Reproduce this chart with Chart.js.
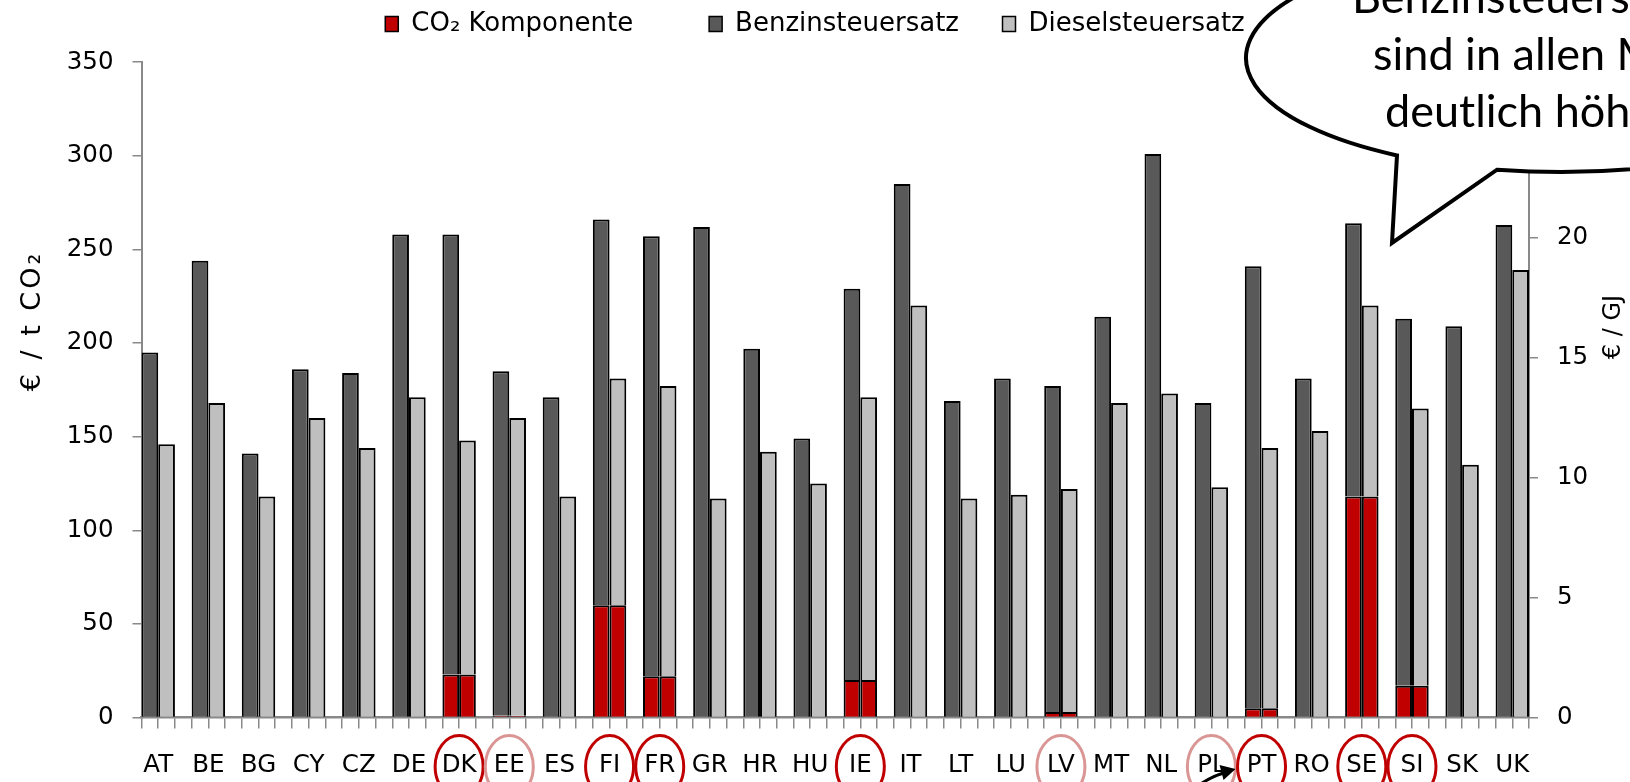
<!DOCTYPE html>
<html>
<head>
<meta charset="utf-8">
<title>Steuersätze</title>
<script src="https://cdn.jsdelivr.net/npm/chart.js@4.4.0/dist/chart.umd.min.js"></script>
<style>
    html, body { margin: 0; padding: 0; background: #fff; }
    #wrap { width: 1630px; height: 782px; position: relative; }
</style>
</head>
<body>
<div id="wrap"><canvas id="taxes"></canvas></div>
<script>
// values, € / t CO2
var countries = ['AT','BE','BG','CY','CZ','DE','DK','EE','ES','FI','FR','GR','HR','HU',
                 'IE','IT','LT','LU','LV','MT','NL','PL','PT','RO','SE','SI','SK','UK'];
var co2Component = [0, 0, 0, 0, 0, 0, 23, 1, 0, 60, 22, 0, 0, 0,
                    20, 0, 0, 0, 3, 0, 0, 0, 5, 0, 118, 17, 0, 0];
var petrolRate = [195, 244, 141, 186, 184, 258, 258, 185, 171, 266, 257, 262, 197, 149,
                  229, 285, 169, 181, 177, 214, 301, 168, 241, 181, 264, 213, 209, 263];
var dieselRate = [146, 168, 118, 160, 144, 171, 148, 160, 118, 181, 177, 117, 142, 125,
                  171, 220, 117, 119, 122, 168, 173, 123, 144, 153, 220, 165, 135, 239];
var circledStrong = ['DK','FI','FR','IE','PT','SE','SI'];
var circledLight = ['EE','LV','PL'];
var calloutLines = ['Benzinsteuersätze', 'sind in allen MS', 'deutlich höher'];

var RED = '#C00000', DARK = '#595959', LIGHT = '#BFBFBF', AXIS = '#898989';

// bar centre of a country sits on the line between its two bars
function pts(values) {
    return values.map(function(v, i) { return { x: i + 1/3, y: v }; });
}
function minus(a, b) {
    return a.map(function(v, i) { return v - b[i]; });
}

Chart.defaults.font.family = '"DejaVu Sans"';
Chart.defaults.color = '#000';

var extras = {
    id: 'extras',
    afterDraw: function(chart) {
        var ctx = chart.ctx, xs = chart.scales.x, area = chart.chartArea;
        ctx.save();

        // rings round some country labels
        countries.forEach(function(c, i) {
            var col = circledStrong.indexOf(c) >= 0 ? RED : (circledLight.indexOf(c) >= 0 ? '#DA9694' : null);
            if (!col) return;
            var px = xs.getPixelForValue(i + 1/3);
            ctx.beginPath();
            ctx.ellipse(px, area.bottom + 49, 24, 31, 0, 0, Math.PI * 2);
            ctx.lineWidth = 3;
            ctx.strokeStyle = col;
            ctx.stroke();
        });

        // small arrow pointing at PT
        var pt = xs.getPixelForValue(countries.indexOf('PT') + 1/3);
        ctx.beginPath();
        ctx.moveTo(pt - 72, 792);
        ctx.quadraticCurveTo(pt - 52, 776, pt - 34, 772);
        ctx.lineWidth = 3;
        ctx.strokeStyle = '#000';
        ctx.stroke();
        ctx.beginPath();
        ctx.moveTo(pt - 26, 769);
        ctx.lineTo(pt - 42, 765);
        ctx.lineTo(pt - 38, 780);
        ctx.closePath();
        ctx.fillStyle = '#000';
        ctx.fill();

        // axis titles
        ctx.fillStyle = '#000';
        ctx.textAlign = 'center';
        ctx.textBaseline = 'middle';
        ctx.save();
        ctx.font = '27px "DejaVu Sans"';
        ctx.letterSpacing = '3px';
        ctx.translate(33, 321);
        ctx.rotate(-Math.PI / 2);
        ctx.fillText('€ / t CO₂', 0, 0);
        ctx.restore();
        ctx.save();
        ctx.font = '24px "DejaVu Sans"';
        ctx.translate(1614, 327);
        ctx.rotate(-Math.PI / 2);
        ctx.fillText('€ / GJ', 0, 0);
        ctx.restore();

        // speech bubble
        var cx = 1560, cy = 58, a = 314, b = 114;
        var t1 = Math.acos((1397 - cx) / a), t2 = Math.acos((1497 - cx) / a);
        ctx.beginPath();
        ctx.ellipse(cx, cy, a, b, 0, t1, t2 + Math.PI * 2);
        ctx.lineTo(1392, 243);
        ctx.closePath();
        ctx.fillStyle = '#fff';
        ctx.fill();
        ctx.lineWidth = 4;
        ctx.lineJoin = 'miter';
        ctx.strokeStyle = '#000';
        ctx.stroke();

        ctx.fillStyle = '#000';
        ctx.font = '45px Lato';
        ctx.textAlign = 'left';
        ctx.textBaseline = 'alphabetic';
        ctx.fillText(calloutLines[0], 1352, 13);
        ctx.fillText(calloutLines[1], 1373, 70);
        ctx.fillText(calloutLines[2], 1385, 127);

        ctx.restore();
    }
};

var ctx = document.getElementById('taxes').getContext('2d');
var myChart = new Chart(ctx, {
    type: 'bar',
    data: {
        datasets: [
            {
                label: 'CO₂ Komponente',
                data: pts(co2Component),
                stack: 'petrol',
                backgroundColor: RED
            },
            {
                label: 'CO₂ Komponente',
                data: pts(co2Component),
                stack: 'diesel',
                backgroundColor: RED
            },
            {
                label: 'Benzinsteuersatz',
                data: pts(minus(petrolRate, co2Component)),
                stack: 'petrol',
                backgroundColor: DARK
            },
            {
                label: 'Dieselsteuersatz',
                data: pts(minus(dieselRate, co2Component)),
                stack: 'diesel',
                backgroundColor: LIGHT
            }
        ]
    },
    options: {
        responsive: true,
        maintainAspectRatio: false,
        animation: false,
        devicePixelRatio: 1,
        layout: { padding: 0 },
        datasets: {
            bar: {
                borderColor: '#000',
                borderWidth: 2,
                categoryPercentage: 2/3,
                barPercentage: 1
            }
        },
        plugins: {
            tooltip: { enabled: false },
            legend: {
                position: 'top',
                labels: {
                    font: { size: 26 },
                    color: '#000',
                    boxWidth: 13,
                    boxHeight: 15,
                    padding: 11,
                    filter: function(item) { return item.datasetIndex !== 1; },
                    generateLabels: function(chart) {
                        var items = Chart.defaults.plugins.legend.labels.generateLabels(chart);
                        items.forEach(function(it) {
                            it.lineWidth = 1.5;
                            if (it.datasetIndex === 0) it.text += '\u2002\u2002\u2002\u2002\u2002';
                            if (it.datasetIndex === 2) it.text += '\u2002\u2002\u2005';
                        });
                        return items;
                    }
                }
            },
            // empty block that only keeps room between legend and plot
            title: {
                display: true,
                text: '',
                weight: 500,
                font: { size: 1 },
                padding: { top: 0, bottom: 14 }
            }
        },
        scales: {
            x: {
                type: 'linear',
                position: 'bottom',
                offset: false,
                min: 0,
                max: countries.length - 1/3,
                afterBuildTicks: function(s) {
                    s.ticks = countries.map(function(c, i) { return { value: i + 1/3 }; });
                },
                afterFit: function(s) { s.height = 64.5; },
                grid: { display: false, drawTicks: false, offset: false },
                border: { display: false },
                ticks: {
                    autoSkip: false,
                    maxRotation: 0,
                    padding: 33,
                    font: { size: 24.5 },
                    color: '#000',
                    callback: function(v, i) { return countries[i]; }
                }
            },
            xt: {
                type: 'linear',
                axis: 'x',
                position: { y: 0 },
                offset: false,
                min: 0,
                max: countries.length - 1/3,
                afterBuildTicks: function(s) {
                    var t = [];
                    for (var k = 0; k <= countries.length * 3 - 1; k++) t.push({ value: k / 3 });
                    s.ticks = t;
                },
                grid: { drawOnChartArea: false, offset: false, tickLength: 10, color: AXIS, lineWidth: 1.5 },
                border: { color: AXIS, width: 2.5 },
                ticks: { display: false }
            },
            y: {
                position: 'left',
                stacked: true,
                min: 0,
                max: 350,
                afterFit: function(s) { s.width = 141.5; },
                grid: { drawOnChartArea: false, tickLength: 9, color: AXIS, lineWidth: 1.5 },
                border: { color: AXIS, width: 2 },
                ticks: { stepSize: 50, padding: 19, font: { size: 24.5 }, color: '#000' }
            },
            y2: {
                position: 'right',
                min: 0,
                max: 27.33,
                afterFit: function(s) { s.width = 101; },
                grid: { drawOnChartArea: false, tickLength: 9, color: AXIS, lineWidth: 1.5 },
                border: { color: AXIS, width: 2 },
                ticks: { stepSize: 5, padding: 19, font: { size: 24.5 }, color: '#000' }
            }
        }
    },
    plugins: [extras]
});
</script>
</body>
</html>
